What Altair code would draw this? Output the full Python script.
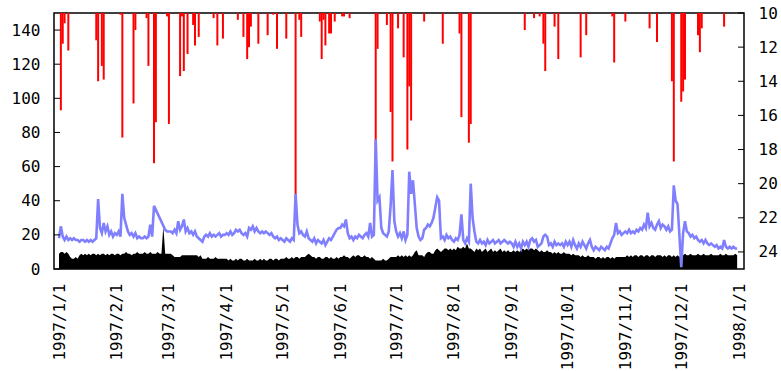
import altair as alt
import pandas as pd

# daily flow (blue line), 1997-01-01 .. 1997-12-31 ; None = no reading
flow = (
    [18,25,19,17,19,17,18,17,18,17, 17,16,17,17,16,17,16,17,16,17, 18,41,24,21,27,22,25,20,22,19, 21] +  # Jan
    [20,22,19,44,30,26,22,20,21,19, 21,18,19,18,18,19,18,19,26,19, 37,None,None,None,None,None,23,22] +  # Feb
    [22,22,21,23,21,28,23,25,29,22, 24,21,22,20,22,19,18,17,16,19, 20,19,21,19,20,19,20,21,19,20, 20] +  # Mar
    [21,20,22,20,21,23,22,23,21,20, 21,19,24,23,25,22,24,22,21,22, 21,22,21,20,21,19,18,19,17,18] +  # Apr
    [17,16,18,17,16,18,17,44,26,21, 22,20,19,22,18,17,16,18,15,17, 16,15,17,14,16,18,17,19,21,23, 24] +  # May
    [24,26,25,29,21,18,19,17,19,18, 20,19,18,20,21,19,27,19,20,76, 40,42,24,21,20,19,22,37,58,28] +  # Jun
    [22,19,21,18,22,17,20,57,44,52, 38,24,19,17,18,23,24,26,25,27, 30,36,42,40,18,19,17,20,18,19, 17] +  # Jul
    [16,18,17,20,32,17,15,18,16,50, 30,22,16,15,17,15,16,14,17,15, 16,17,15,16,17,15,16,17,16,15, 16] +  # Aug
    [15,13,16,13,15,12,16,14,16,13, 17,18,16,17,13,14,15,19,20,19, 14,15,13,16,14,15,14,15,13,16] +  # Sep
    [14,16,13,17,14,12,15,13,16,14, 12,15,17,13,11,13,12,11,13,12, 11,13,12,15,18,20,27,21,22,20, 21] +  # Oct
    [22,21,23,21,22,21,23,22,24,23, 26,24,33,25,27,24,23,26,28,24, 26,25,23,25,22,23,49,40,38,20] +  # Nov
    [1,21,28,22,21,19,20,18,19,17, 16,17,15,17,15,14,15,14,13,14, 12,13,12,17,13,12,13,12,13,12, 12]    # Dec
)

# daily second series (black area)
level = (
    [9,10,10,9,10,9,7,6,6,7, 6,8,9,8,9,8,9,8,9,9, 8,9,8,9,9,8,9,8,9,9, 8] +
    [9,9,8,9,9,10,9,9,8,9, 9,10,9,9,9,10,9,9,10,9, 9,9,10,9,9,25,9,9] +
    [9,9,8,7,7,7,7,8,8,8, 8,8,8,8,8,8,7,8,6,6, 6,7,6,6,6,7,6,6,6,6, 6] +
    [6,5,6,5,5,6,5,6,6,5, 5,6,5,5,5,6,5,5,6,5, 6,5,5,6,6,5,6,6,5,6] +
    [6,6,7,6,6,7,6,7,7,6, 7,7,7,8,9,8,7,7,6,7, 7,6,6,7,7,6,7,6,6,7, 6] +
    [7,7,8,7,7,6,7,8,7,8, 8,7,7,8,7,7,6,7,6,5, 5,5,5,6,5,5,6,7,7,7] +
    [7,8,7,8,7,8,7,8,7,8, 10,11,8,8,8,7,9,10,10,9, 9,11,12,11,10,11,12,12,11,12, 11] +
    [12,11,13,12,12,13,12,15,12,12, 11,10,12,11,12,10,11,12,10,11, 12,10,11,10,11,12,10,11,10,11, 10] +
    [10,11,10,11,10,11,12,11,12,11, 12,12,11,12,11,10,11,10,10,11, 10,10,9,10,9,10,9,9,10,9] +
    [9,9,8,9,8,8,8,7,8,7, 7,8,7,7,7,6,7,7,6,7, 6,7,7,6,7,6,7,7,7,7, 7] +
    [7,8,7,8,7,8,8,7,8,8, 7,8,8,7,8,8,7,8,8,8, 7,8,7,8,8,7,8,7,8,7] +
    [8,8,9,8,8,9,8,8,8,9, 8,8,9,8,8,8,9,8,8,8, 8,9,8,8,9,8,8,8,8,9, 8]
)

# rainfall (red bars hanging from the top)
rain_dates = [
    "01-02","01-03","01-04","01-06","01-21","01-22","01-24","01-25",
    "02-03","02-04","02-10","02-11","02-17","02-18","02-21","02-22","02-28",
    "03-01","03-07","03-08","03-09","03-11","03-14","03-15","03-17","03-25","03-27","03-30",
    "04-07","04-10","04-12","04-13","04-14","04-18","04-23","04-26","04-28",
    "05-03","05-08","05-10","05-11","05-21","05-22","05-23","05-24","05-26","05-27","05-29",
    "06-02","06-03","06-06","06-20","06-21","06-26","06-28","06-29",
    "07-02","07-05","07-07","07-08","07-09","07-16","07-26",
    "08-04","08-05","08-09","08-10",
    "09-08","09-13","09-16","09-18","09-19","09-24","09-26",
    "10-08","10-11","10-25","10-26",
    "11-01","11-14","11-18","11-26","11-27",
    "12-01","12-02","12-03","12-10","12-11","12-12","12-24",
]
rain_mm = [
    57,18,6,22,16,40,31,39,
    1,73,53,10,3,31,88,64,2,
    65,37,2,34,24,7,19,14,3,19,15,
    4,14,27,20,8,18,13,1,21,
    15,117,4,14,5,27,4,19,12,12,5,
    2,2,3,91,21,7,58,87,
    9,26,80,43,63,5,18,
    12,61,76,65,
    10,3,2,18,34,8,27,
    26,13,2,29,
    5,9,17,40,87,
    52,46,39,13,23,9,8,
]

left_ticks = [0, 20, 40, 60, 80, 100, 120, 140]
right_ticks = [10, 12, 14, 16, 18, 20, 22, 24]
month_starts = [(1997, m) for m in range(1, 13)] + [(1998, 1)]

dates = pd.date_range("1997-01-01", periods=365, freq="D").strftime("%Y-%m-%dT00:00:00")
daily = pd.DataFrame({"date": dates, "flow": flow, "level": level})
flow_df = daily.dropna(subset=["flow"])
rain_df = pd.DataFrame({"date": ["1997-" + d + "T00:00:00" for d in rain_dates], "rain": rain_mm})
lt_df = pd.DataFrame({"v": left_ticks})
rt_df = pd.DataFrame({"v": right_ticks})

FONT = "DejaVu Sans Mono"
xdom = [alt.DateTime(year=1997, month=1, date=1), alt.DateTime(year=1998, month=1, date=1)]
xscale = alt.Scale(domain=xdom)

x_axis = alt.Axis(
    values=[alt.DateTime(year=y, month=m, date=1) for y, m in month_starts],
    format="%Y/%-m/%-d", labelAngle=270, labelPadding=14, labelOverlap=False,
    labelFont=FONT, labelFontSize=16, labelColor="#000", labelBound=False, labelFlush=False,
    ticks=False, domain=False, grid=False, title=None,
)
X = alt.X("date:T", scale=xscale, axis=x_axis)

rain = alt.Chart(rain_df).mark_bar(color="#ff0000", width=2, clip=True).encode(
    x=X,
    y=alt.Y("rain:Q", scale=alt.Scale(domain=[0, 150], reverse=True), axis=None),
)

area = alt.Chart(daily).mark_area(color="#000000", clip=True).encode(
    x=X,
    y=alt.Y("level:Q", scale=alt.Scale(domain=[0, 150]), axis=None),
)

line = alt.Chart(flow_df).mark_line(color="#8080ff", strokeWidth=2.6, clip=True).encode(
    x=X,
    y=alt.Y("flow:Q", scale=alt.Scale(domain=[0, 150]), axis=None),
)

left_axis = alt.Chart(lt_df).mark_rule(color="#000", strokeWidth=1).encode(
    x=alt.value(0), x2=alt.value(6),
    y=alt.Y("v:Q", scale=alt.Scale(domain=[0, 150]),
            axis=alt.Axis(orient="left", values=left_ticks, labelPadding=14, labelFont=FONT,
                          labelFontSize=16, labelColor="#000", ticks=False, domain=False,
                          grid=False, title=None)),
)

right_axis = alt.Chart(rt_df).mark_rule(color="#000", strokeWidth=1).encode(
    x=alt.value(684), x2=alt.value(690),
    y=alt.Y("v:Q", scale=alt.Scale(domain=[10, 25], reverse=True),
            axis=alt.Axis(orient="right", values=right_ticks, labelPadding=14, labelFont=FONT,
                          labelFontSize=16, labelColor="#000", ticks=False, domain=False,
                          grid=False, title=None)),
)

chart = alt.layer(rain, area, line, left_axis, right_axis).resolve_scale(
    y="independent"
).properties(
    width=690, height=256,
    padding={"left": 54, "top": 13, "right": 37, "bottom": 102},
    autosize=alt.AutoSizeParams(type="none"),
).configure_view(stroke="#000", strokeWidth=1.5)

chart.save("out.html", embed_options={"renderer": "svg", "actions": False})
